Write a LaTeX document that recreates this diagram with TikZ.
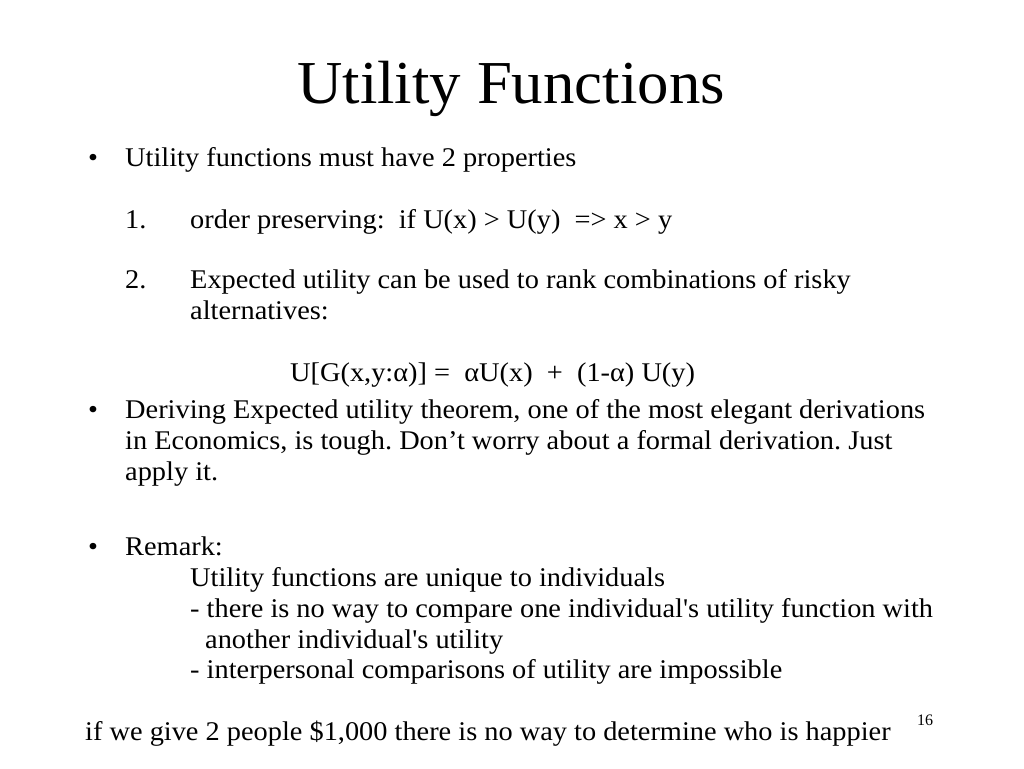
\documentclass[tikz,border=0pt]{standalone}
\usepackage{fontspec}
\setmainfont{Liberation Serif}
\frenchspacing
\begin{document}
\begin{tikzpicture}[x=1pt,y=1pt,
  t/.style={anchor=base west,inner sep=0pt,xscale=1.05,font=\fontsize{27}{31}\selectfont}]
\useasboundingbox (0,0) rectangle (1024,-768);
\node[anchor=base,inner sep=0pt,xscale=1.03,font=\fontsize{61}{70}\selectfont] (title) at (511,-103) {Utility Functions};
\node[t] (b1) at (88,-166) {•};
\node[t] (l1) at (125,-166) {Utility functions must have 2 properties};
\node[t] (n1) at (125,-228) {1.};
\node[t] (l2) at (190,-228) {order preserving:\ \ if U(x) > U(y)\ \ => x > y};
\node[t] (n2) at (125,-288) {2.};
\node[t] (l3) at (190,-288) {Expected utility can be used to rank combinations of risky};
\node[t] (l4) at (190,-319) {alternatives:};
\node[t] (f) at (290,-381) {U[G(x,y:α)] =\ \ αU(x)\ \ +\ \ (1-α) U(y)};
\node[t] (b2) at (88,-418) {•};
\node[t] (l5) at (125,-418) {Deriving Expected utility theorem, one of the most elegant derivations};
\node[t] (l6) at (125,-449) {in Economics, is tough. Don’t worry about a formal derivation. Just};
\node[t] (l7) at (125,-480) {apply it.};
\node[t] (b3) at (88,-555) {•};
\node[t] (l8) at (125,-555) {Remark:};
\node[t] (l9) at (190,-586) {Utility functions are unique to individuals};
\node[t] (l10) at (190,-617) {- there is no way to compare one individual\textquotesingle s utility function with};
\node[t] (l11) at (205,-648) {another individual\textquotesingle s utility};
\node[t] (l12) at (190,-678) {- interpersonal comparisons of utility are impossible};
\node[t] (l13) at (85,-740) {if we give 2 people \$1,000 there is no way to determine who is happier};
\node[anchor=base west,inner sep=0pt,font=\fontsize{16}{19}\selectfont] (pg) at (917,-725) {16};
\end{tikzpicture}
\end{document}
